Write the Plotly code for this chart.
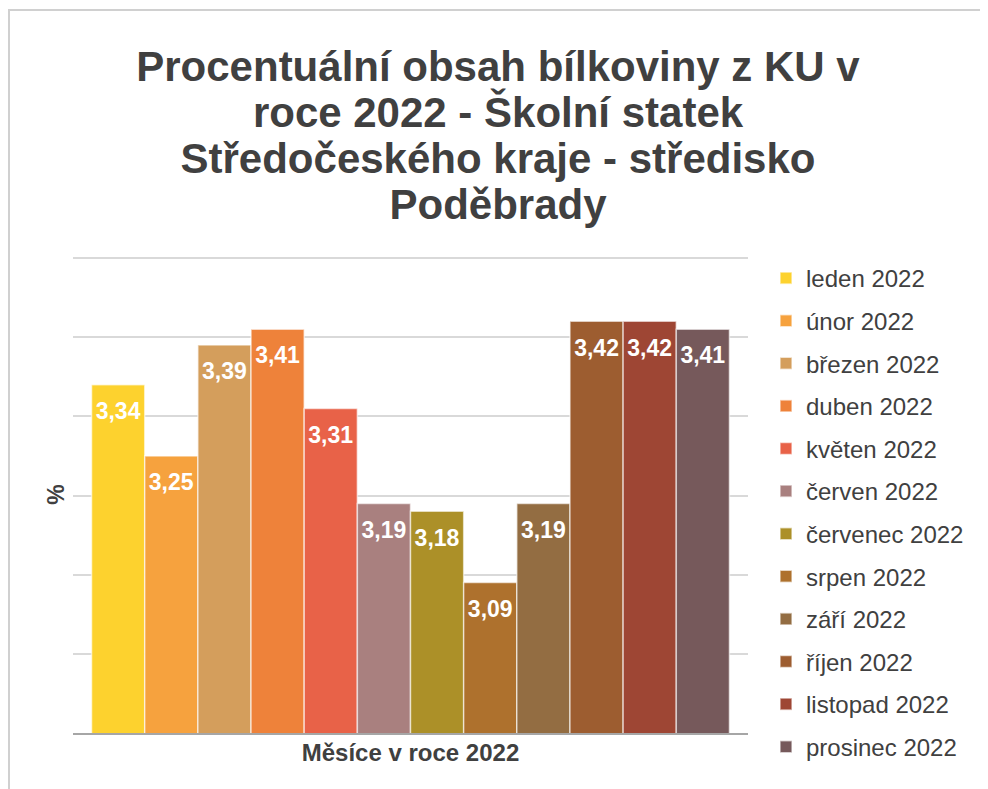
import plotly.graph_objects as go

months = ["leden 2022", "únor 2022", "březen 2022", "duben 2022", "květen 2022",
          "červen 2022", "červenec 2022", "srpen 2022", "září 2022", "říjen 2022",
          "listopad 2022", "prosinec 2022"]
values = [3.34, 3.25, 3.39, 3.41, 3.31, 3.19, 3.18, 3.09, 3.19, 3.42, 3.42, 3.41]
colors = ["#FDD22E", "#F6A23E", "#D49E5C", "#EE823A", "#E86248", "#A9807F",
          "#AC9028", "#AE712D", "#936D42", "#9D5D30", "#9E4634", "#76595B"]
grid_values = [2.9, 3.0, 3.1, 3.2, 3.3, 3.4, 3.5]
category = "Měsíce v roce 2022"

title_lines = ["Procentuální obsah bílkoviny z KU v", "roce 2022 - Školní statek",
               "Středočeského kraje - středisko", "Poděbrady"]

FONT = "Liberation Sans, Arial, Helvetica, sans-serif"
DARK = "#404040"

fig = go.Figure()
for i, (m, v, c) in enumerate(zip(months, values, colors)):
    fig.add_trace(go.Bar(
        x=[category], y=[v], name=m, legendgroup=f"g{i}",
        marker=dict(color=c, line=dict(color="rgba(255,255,255,0.6)", width=1.5)),
        texttemplate='&nbsp;<br><span style="font-size:23px">%{y:.2f}</span>',
        textposition="inside", insidetextanchor="end",
        textangle=0,
        textfont=dict(family=FONT, size=14, color="white", weight="bold"),
        hovertemplate=m + ": %{y:.2f}<extra></extra>",
    ))

# page offset of the figure div (body margin)
OFF = 8
W, H = 980, 781
# plot area extends 2px above the 3.5 gridline so that gridline is drawn
L, R, T, B = 65, 240, 248, 56
pw, ph = W - L - R, H - T - B
y_top = 3.5 + 2 * 0.6 / 475

def px_x(sx):
    return (sx - OFF - L) / pw

def px_y(sy):
    return (H - B - (sy - OFF)) / ph

span = '<span style="font-size:42px">'
title_text = "<br>".join(span + t + "</span>" for t in title_lines)

border = dict(color="#d0d0d0", width=2)

fig.update_layout(
    width=W, height=H,
    margin=dict(l=L, r=R, t=T, b=B, autoexpand=False),
    paper_bgcolor="white", plot_bgcolor="white",
    separators=", ",
    font=dict(family=FONT, color=DARK),
    title=dict(
        text=title_text,
        x=0.5, xref="container", xanchor="center",
        y=1 - 73 / H, yref="container", yanchor="top",
        font=dict(family=FONT, size=35.5, color=DARK, weight="bold"),
    ),
    barmode="group", bargap=0.055, bargroupgap=0,
    showlegend=True,
    legend=dict(
        x=px_x(766), xanchor="left", y=px_y(256), yanchor="top",
        font=dict(family=FONT, size=24, color=DARK),
        tracegroupgap=8.4, traceorder="grouped",
        maxheight=560,
        bgcolor="rgba(0,0,0,0)",
    ),
    xaxis=dict(
        showticklabels=False, ticks="", showgrid=False,
        showline=True, linecolor="#a6a6a6", linewidth=2,
        title=dict(text=category, standoff=10,
                   font=dict(family=FONT, size=24, color=DARK, weight="bold")),
    ),
    yaxis=dict(
        range=[2.9, y_top], tickmode="array", tickvals=grid_values,
        showticklabels=False, ticks="",
        showgrid=True, gridcolor="#d9d9d9", gridwidth=2,
        zeroline=False,
        title=dict(text="%", standoff=0,
                   font=dict(family=FONT, size=23, color=DARK, weight="bold")),
    ),
    shapes=[
        dict(type="line", xref="paper", yref="paper",
             x0=px_x(9), x1=px_x(9), y0=px_y(10), y1=px_y(1000),
             line=border, layer="below"),
        dict(type="line", xref="paper", yref="paper",
             x0=px_x(8), x1=px_x(1200), y0=px_y(10), y1=px_y(10),
             line=border, layer="below"),
    ],
)

fig.write_html("out.html")
